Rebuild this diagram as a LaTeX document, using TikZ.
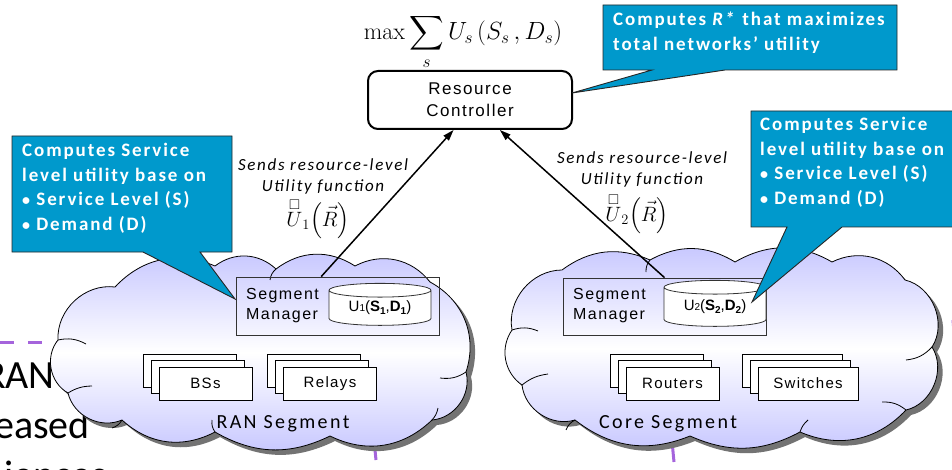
\documentclass[tikz,border=0pt]{standalone}
\usepackage{fontspec}
\usepackage{amsmath,amssymb}
\usetikzlibrary{shadows,shapes.geometric,arrows.meta,calc}
\newfontfamily\calfont[LetterSpace=10]{Carlito}
\newfontfamily\calplain{Carlito}
\newfontfamily\segfont[LetterSpace=12]{Carlito}
\newfontfamily\arialsp[LetterSpace=9]{Liberation Sans}
\newfontfamily\arialfont{Liberation Sans}
\definecolor{callblue}{RGB}{0,153,204}
\definecolor{cloudlav}{RGB}{198,198,255}
\definecolor{slidepurple}{RGB}{165,100,220}

\tikzset{
  cloudseg/.style={draw=black, line width=0.8pt, line join=round,
    top color=cloudlav, bottom color=cloudlav, middle color=white,
    drop shadow={shadow xshift=5pt, shadow yshift=-5pt, fill=black!55, opacity=1}},
  cloudfold/.style={draw=black, line width=0.8pt},
  smbox/.style={draw=black!80, line width=0.8pt, inner sep=0pt},
  smtext/.style={align=left, inner sep=0pt, font=\arialsp\fontsize{16}{20}\selectfont},
  store/.style={cylinder, shape border rotate=90, aspect=0.22, draw=black!80,
    line width=0.8pt, fill=white, inner sep=0pt, font=\arialfont\fontsize{15}{18}\selectfont},
  stackbox/.style={draw=black, line width=0.8pt, fill=white, minimum width=93pt,
    minimum height=33pt, inner sep=0pt, font=\arialsp\fontsize{15}{18}\selectfont},
  segname/.style={font=\segfont\fontsize{20}{24}\selectfont, inner sep=0pt},
  ctrl/.style={draw=black, line width=2pt, rounded corners=10pt, fill=white,
    minimum width=204pt, minimum height=58pt, align=center, inner sep=0pt,
    font=\arialsp\fontsize{17}{22}\selectfont},
  sendlabel/.style={align=center, inner sep=0pt, font=\calfont\itshape\fontsize{17}{21}\selectfont},
  uplink/.style={line width=1.5pt, -{Triangle[length=11pt,width=7pt]}},
  callshape/.style={fill=callblue, draw=black!85, line width=0.9pt, line join=miter},
  calltext/.style={align=left, inner sep=0pt, text=white,
    font=\calfont\bfseries\fontsize{19}{24.5}\selectfont},
  slidetext/.style={inner sep=0pt, font=\calplain\fontsize{40}{48}\selectfont},
  slideline/.style={slidepurple, line width=3pt}
}
\newcommand{\bul}{{\fontsize{16}{16}\selectfont•}\ }
\newcommand{\tofuU}{\overset{\raisebox{-6pt}{$\scriptstyle\square$}}{U}}

\begin{document}
\begin{tikzpicture}[x=1pt, y=-1pt]
\useasboundingbox (0,0) rectangle (952,470);
\clip (0,0) rectangle (952,470);

% slide fragments behind the diagram
\draw[slideline, dash pattern=on 14pt off 14pt] (0,342) -- (70,342);
\node[slidetext, anchor=base east] (t1) at (55,388) {RAN};
\node[slidetext, anchor=base east] (t2) at (90,438) {eased};
\node[slidetext, anchor=base west] (t3) at (4,488) {iences};
\draw[slideline] (371,410) -- (376,460);
\draw[slideline] (669,410) -- (674,462);
\draw[slideline] (953,320) -- (955,345);

% RAN segment cloud
\path[cloudseg] (58,340)
  to[bend left=50] (115,287)
  to[bend left=35] (215,266)
  to[bend left=40] (276,269)
  to[bend left=35] (355,266)
  to[bend left=40] (430,282)
  to[bend left=40] (466,372)
  to[bend left=50] (432,420)
  to[bend left=35] (330,436)
  to[bend left=28] (215,432)
  to[bend left=35] (122,420)
  to[bend left=50] (68,393)
  to[bend left=50] cycle;
\draw[cloudfold] (58,340) to[bend left=20] (86,344);
\draw[cloudfold] (68,393) to[bend left=15] (92,386);
\draw[cloudfold] (122,420) to[bend left=20] (112,428);
\draw[cloudfold] (276,269) to[bend right=20] (270,280);
\draw[cloudfold] (466,372) to[bend left=20] (440,378);
\draw[cloudfold] (432,420) to[bend right=15] (438,408);
\draw[cloudfold] (215,432) to[bend left=20] (212,420);

% core segment cloud
\path[cloudseg] (512,330)
  to[bend left=50] (562,270)
  to[bend left=30] (650,260)
  to[bend left=30] (735,262)
  to[bend left=30] (832,262)
  to[bend left=40] (905,280)
  to[bend left=55] (932,347)
  to[bend left=55] (906,410)
  to[bend left=35] (800,432)
  to[bend left=26] (690,436)
  to[bend left=30] (575,420)
  to[bend left=50] (522,385)
  to[bend left=45] cycle;
\draw[cloudfold] (512,330) to[bend left=20] (538,331);
\draw[cloudfold] (522,385) to[bend left=15] (548,374);
\draw[cloudfold] (575,420) to[bend right=20] (566,430);
\draw[cloudfold] (650,260) to[bend right=20] (646,272);
\draw[cloudfold] (932,347) to[bend left=20] (906,360);
\draw[cloudfold] (906,410) to[bend right=20] (882,402);
\draw[cloudfold] (800,432) to[bend left=15] (808,420);

% RAN segment contents
\node[smbox, minimum width=203pt, minimum height=58pt] (smL) at (337.5,306) {};
\node[smtext, anchor=west] (smLt) at (246,306) {Segment\\Manager};
\node[store, minimum width=102pt, minimum height=42pt] (dbL) at (380,308)
  {U{\fontsize{10}{10}\selectfont 1}(\textbf{S}\raisebox{-0.3ex}{\fontsize{10}{10}\selectfont\bfseries 1},\textbf{D}\raisebox{-0.3ex}{\fontsize{10}{10}\selectfont\bfseries 1})};
\node[stackbox] (bs3) at (189.5,370.5) {};
\node[stackbox] (bs2) at (197.5,377) {};
\node[stackbox] (bs1) at (205.5,383.5) {BSs};
\node[stackbox] (rl3) at (314,370.5) {};
\node[stackbox] (rl2) at (322,377) {};
\node[stackbox] (rl1) at (330,383.5) {Relays};
\node[segname] (ranname) at (283,424) {RAN Segment};

% core segment contents
\node[smbox, minimum width=203pt, minimum height=57pt] (smR) at (664.5,306.5) {};
\node[smtext, anchor=west] (smRt) at (573,306) {Segment\\Manager};
\node[store, minimum width=102pt, minimum height=46pt] (dbR) at (715,307)
  {U{\fontsize{10}{10}\selectfont 2}(\textbf{S}\raisebox{-0.3ex}{\fontsize{10}{10}\selectfont\bfseries 2},\textbf{D}\raisebox{-0.3ex}{\fontsize{10}{10}\selectfont\bfseries 2})};
\node[stackbox] (ro3) at (656.5,370.5) {};
\node[stackbox] (ro2) at (664.5,377) {};
\node[stackbox] (ro1) at (672.5,383.5) {Routers};
\node[stackbox, minimum width=100pt] (sw3) at (792,370.5) {};
\node[stackbox, minimum width=100pt] (sw2) at (800,377) {};
\node[stackbox, minimum width=100pt] (sw1) at (808,383.5) {Switches};
\node[segname] (corename) at (668,424) {Core Segment};

% resource controller and its objective
\node[inner sep=0pt] (obj) at (463,42)
  {\fontsize{24}{28}\selectfont$\displaystyle \max\sum_{s} U_s\,(S_s\,, D_s)$};
\node[ctrl] (rc) at (470,100) {Resource\\Controller};

% utility functions sent upward
\draw[uplink] ($(smL.north west)!0.42!(smL.north east)$) -- ($(rc.south west)!0.42!(rc.south east)$);
\draw[uplink] ($(smR.north west)!0.5!(smR.north east)$) -- ($(rc.south west)!0.645!(rc.south east)$);
\node[sendlabel] (sendL) at (323,176) {Sends resource-level\\Utility function};
\node[inner sep=0pt] (uL) at (318,219)
  {\fontsize{20}{24}\selectfont$\tofuU_{1}\Bigl(\vec{R}\Bigr)$};
\node[sendlabel] (sendR) at (642,169) {Sends resource-level\\Utility function};
\node[inner sep=0pt] (uR) at (637,214)
  {\fontsize{20}{24}\selectfont$\tofuU_{2}\Bigl(\vec{R}\Bigr)$};

% callouts
\draw[callshape] (603,5) -- (897,5) -- (897,70) -- (725,70) -- (572,93) -- (652,70) -- (603,70) -- cycle;
\node[calltext, anchor=north west] (callTop) at (613,12)
  {Computes \textit{R*} that maximizes\\total networks’ utility};

\draw[callshape] (12,136) -- (232,136) -- (232,252) -- (200,252) -- (235,299) -- (143,252) -- (12,252) -- cycle;
\node[calltext, anchor=north west] (callL) at (22,143)
  {Computes Service\\level utility base on\\\bul Service Level (S)\\\bul Demand (D)};

\draw[callshape] (751,111) -- (955,111) -- (955,227) -- (842,227) -- (752,302) -- (787,227) -- (751,227) -- cycle;
\node[calltext, anchor=north west] (callR) at (760,117)
  {Computes Service\\level utility base on\\\bul Service Level (S)\\\bul Demand (D)};
\end{tikzpicture}
\end{document}
